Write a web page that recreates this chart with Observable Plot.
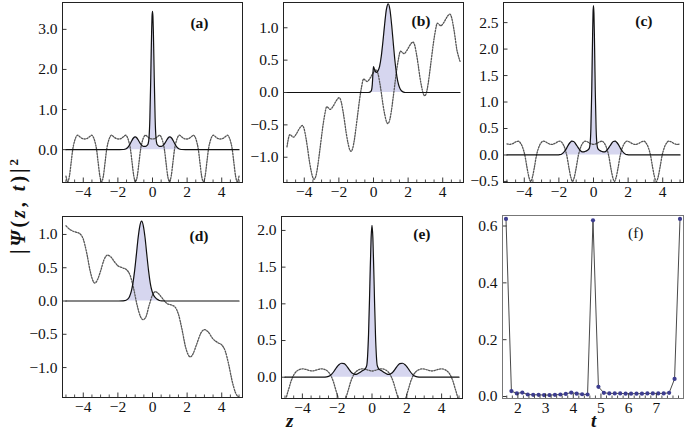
<!DOCTYPE html>
<html><head><meta charset="utf-8">
<script src="https://cdn.jsdelivr.net/npm/d3@7"></script>
<script src="https://cdn.jsdelivr.net/npm/@observablehq/plot@0.6"></script>
<style>
body{margin:0;background:#fff;}
#fig{position:relative;width:685px;height:434px;background:#fff;overflow:hidden;}
#fig svg{position:absolute;overflow:visible;background:transparent;font-family:"Liberation Serif",serif;}
#fig svg text{font-family:"Liberation Serif",serif;}
.ttl{position:absolute;font-family:"Liberation Serif",serif;font-weight:bold;color:#111;white-space:nowrap;}
</style></head><body><div id="fig"></div>
<script>
// ---------- tick labels ----------
const zTicks = [-4, -2, 0, 2, 4];
const zMinor = [-5, -4.5, -3.5, -3, -2.5, -1.5, -1, -0.5, 0.5, 1, 1.5, 2.5, 3, 3.5, 4.5, 5];
const tTicks = [2, 3, 4, 5, 6, 7];
const tMinor = [1.6, 1.8, 2.2, 2.4, 2.6, 2.8, 3.2, 3.4, 3.6, 3.8, 4.2, 4.4, 4.6, 4.8, 5.2, 5.4, 5.6, 5.8, 6.2, 6.4, 6.6, 6.8, 7.2, 7.4, 7.6, 7.8];
const aYTicks = [0, 1, 2, 3];
const bYTicks = [-1, -0.5, 0, 0.5, 1];
const cYTicks = [-0.5, 0, 0.5, 1, 1.5, 2, 2.5];
const dYTicks = [-1, -0.5, 0, 0.5, 1];
const eYTicks = [0, 0.5, 1, 1.5, 2];
const fYTicks = [0, 0.2, 0.4, 0.6];

// ---------- panel (a) ----------
const aDotZ = [-5.0,-4.9,-4.8,-4.7,-4.61,-4.5,-4.4,-4.33,-4.2,-4.05,-3.92,-3.79,-3.64,-3.51,-3.44,-3.34,-3.23,-3.14,-3.04,-2.94,-2.84,-2.74,-2.65,-2.54,-2.44,-2.37,-2.24,-2.09,-1.96,-1.83,-1.68,-1.55,-1.48,-1.38,-1.27,-1.18,-1.08,-0.98,-0.88,-0.78,-0.69,-0.58,-0.48,-0.41,-0.28,-0.13,0,
  0.13,0.28,0.41,0.48,0.58,0.69,0.78,0.88,0.98,1.08,1.18,1.27,1.38,1.48,1.55,1.68,1.83,1.96,2.09,2.24,2.37,2.44,2.54,2.65,2.74,2.84,2.94,3.04,3.14,3.23,3.34,3.44,3.51,3.64,3.79,3.92,4.05,4.2,4.33,4.4,4.5,4.61,4.7,4.8,4.9,5.0];
const aDotV = [-0.66,-0.80,-0.66,-0.32,0.0,0.22,0.33,0.36,0.32,0.275,0.265,0.275,0.32,0.36,0.33,0.22,0.0,-0.32,-0.66,-0.80,-0.66,-0.32,0.0,0.22,0.33,0.36,0.32,0.275,0.265,0.275,0.32,0.36,0.33,0.22,0.0,-0.32,-0.66,-0.80,-0.66,-0.32,0.0,0.22,0.33,0.36,0.32,0.275,0.265,
  0.275,0.32,0.36,0.33,0.22,0.0,-0.32,-0.66,-0.80,-0.66,-0.32,0.0,0.22,0.33,0.36,0.32,0.275,0.265,0.275,0.32,0.36,0.33,0.22,0.0,-0.32,-0.66,-0.80,-0.66,-0.32,0.0,0.22,0.33,0.36,0.32,0.275,0.265,0.275,0.32,0.36,0.33,0.22,0.0,-0.32,-0.66,-0.80,-0.66];
const aSolZ = [-5,-1.9,-1.7,-1.6,-1.5,-1.4,-1.3,-1.2,-1.1,-1.0,-0.9,-0.8,-0.7,-0.6,-0.5,-0.4,-0.3,-0.25,-0.2,-0.15,-0.1,-0.075,-0.05,-0.025,0,0.025,0.05,0.075,0.1,0.15,0.2,0.25,0.3,0.4,0.5,0.6,0.7,0.8,0.9,1.0,1.1,1.2,1.3,1.4,1.5,1.6,1.7,1.9,5];
const aSolV = [0,0,0.003,0.01,0.03,0.07,0.14,0.22,0.29,0.32,0.29,0.22,0.15,0.1,0.08,0.08,0.11,0.15,0.3,0.8,1.8,2.4,2.95,3.32,3.45,3.32,2.95,2.4,1.8,0.8,0.3,0.15,0.11,0.08,0.08,0.1,0.15,0.22,0.29,0.32,0.29,0.22,0.14,0.07,0.03,0.01,0.003,0,0];

// ---------- panel (b) ----------
const bDotZ = [-5.0,-4.83,-4.73,-4.63,-4.46,-4.31,-4.21,-4.11,-4.01,-3.91,-3.81,-3.71,-3.61,-3.51,-3.43,-3.33,-3.23,-3.13,-3.03,-2.93,-2.83,-2.70,-2.60,-2.50,-2.33,-2.18,-2.08,-1.98,-1.88,-1.78,-1.68,-1.58,-1.48,-1.38,-1.30,-1.20,-1.10,-1.00,-0.90,-0.80,-0.70,-0.57,-0.47,-0.37,-0.20,-0.05,0.05,0.15,0.25,0.35,0.45,0.55,0.65,0.75,0.83,0.93,1.03,1.13,1.23,1.33,1.43,1.56,1.66,1.76,1.93,2.08,2.18,2.28,2.38,2.48,2.58,2.68,2.78,2.88,2.96,3.06,3.16,3.26,3.36,3.46,3.56,3.69,3.79,3.89,4.06,4.21,4.31,4.41,4.51,4.61,4.71,4.81,4.91,5.0];
const bDotV = [-0.84,-0.65,-0.67,-0.69,-0.64,-0.57,-0.53,-0.51,-0.56,-0.69,-0.86,-1.05,-1.20,-1.31,-1.34,-1.29,-1.15,-0.95,-0.74,-0.53,-0.36,-0.22,-0.24,-0.26,-0.21,-0.14,-0.10,-0.08,-0.13,-0.26,-0.43,-0.62,-0.77,-0.88,-0.91,-0.86,-0.72,-0.52,-0.31,-0.10,0.07,0.21,0.19,0.17,0.22,0.29,0.33,0.35,0.30,0.17,0.00,-0.19,-0.34,-0.45,-0.48,-0.43,-0.29,-0.09,0.12,0.33,0.50,0.64,0.62,0.60,0.65,0.72,0.76,0.78,0.73,0.60,0.43,0.24,0.09,-0.02,-0.05,0.00,0.14,0.34,0.55,0.76,0.93,1.07,1.05,1.03,1.08,1.15,1.19,1.21,1.16,1.03,0.86,0.67,0.56,0.48];
const bSolZ = [-5,-0.3,-0.2,-0.12,-0.07,-0.03,0.0,0.04,0.1,0.17,0.25,0.35,0.45,0.55,0.65,0.75,0.85,0.95,1.05,1.15,1.25,1.35,1.45,1.55,1.7,1.85,5];
const bSolV = [0,0,0.005,0.03,0.12,0.30,0.40,0.37,0.33,0.31,0.33,0.40,0.56,0.80,1.07,1.29,1.37,1.28,1.04,0.74,0.46,0.25,0.12,0.05,0.01,0,0];

// ---------- panel (c) ----------
const cDotZ = [-5.0,-4.84,-4.63,-4.48,-4.35,-4.21,-4.08,-3.97,-3.83,-3.73,-3.63,-3.53,-3.43,-3.29,-3.18,-3.05,-2.91,-2.78,-2.63,-2.42,-2.21,-2.06,-1.93,-1.79,-1.66,-1.55,-1.41,-1.31,-1.21,-1.11,-1.01,-0.87,-0.76,-0.63,-0.49,-0.36,-0.21,0,0.21,0.36,0.49,0.63,0.76,0.87,1.01,1.11,1.21,1.31,1.41,1.55,1.66,1.79,1.93,2.06,2.21,2.42,2.63,2.78,2.91,3.05,3.18,3.29,3.43,3.53,3.63,3.73,3.83,3.97,4.08,4.21,4.35,4.48,4.63,4.84,5.0];
const cDotV = [0.21,0.20,0.22,0.25,0.26,0.22,0.13,0.0,-0.26,-0.42,-0.50,-0.42,-0.26,0.0,0.13,0.22,0.26,0.25,0.22,0.20,0.22,0.25,0.26,0.22,0.13,0.0,-0.26,-0.42,-0.50,-0.42,-0.26,0.0,0.13,0.22,0.26,0.25,0.22,0.20,0.22,0.25,0.26,0.22,0.13,0.0,-0.26,-0.42,-0.50,-0.42,-0.26,0.0,0.13,0.22,0.26,0.25,0.22,0.20,0.22,0.25,0.26,0.22,0.13,0.0,-0.26,-0.42,-0.50,-0.42,-0.26,0.0,0.13,0.22,0.26,0.25,0.22,0.20,0.21];
const cSolZ = [-5,-2.1,-1.95,-1.85,-1.75,-1.65,-1.55,-1.45,-1.35,-1.25,-1.15,-1.05,-0.95,-0.85,-0.75,-0.65,-0.55,-0.45,-0.35,-0.25,-0.2,-0.15,-0.1,-0.075,-0.05,-0.025,0,0.025,0.05,0.075,0.1,0.15,0.2,0.25,0.35,0.45,0.55,0.65,0.75,0.85,0.95,1.05,1.15,1.25,1.35,1.45,1.55,1.65,1.75,1.85,1.95,2.1,5];
const cSolV = [0,0,0.005,0.015,0.04,0.08,0.13,0.19,0.235,0.26,0.255,0.22,0.17,0.12,0.08,0.06,0.06,0.07,0.09,0.12,0.2,0.5,1.24,1.78,2.3,2.68,2.82,2.68,2.3,1.78,1.24,0.5,0.2,0.12,0.09,0.07,0.06,0.06,0.08,0.12,0.17,0.22,0.255,0.26,0.235,0.19,0.13,0.08,0.04,0.015,0.005,0,0];

// ---------- panel (d) ----------
const dDotZ = [-5.0,-4.75,-4.5,-4.25,-4.0,-3.8,-3.6,-3.45,-3.33,-3.18,-3.0,-2.8,-2.6,-2.4,-2.2,-2.0,-1.75,-1.5,-1.3,-1.1,-0.9,-0.7,-0.55,-0.4,-0.2,0.0,0.17,0.35,0.6,0.85,1.1,1.3,1.5,1.7,1.9,2.05,2.18,2.33,2.55,2.8,3.0,3.2,3.5,3.8,4.0,4.2,4.4,4.6,4.8,5.0];
const dDotV = [1.13,1.07,1.04,1.02,0.93,0.72,0.45,0.31,0.27,0.32,0.45,0.62,0.69,0.66,0.59,0.53,0.50,0.47,0.39,0.20,-0.05,-0.23,-0.28,-0.25,-0.07,0.09,0.14,0.11,0.03,-0.04,-0.06,-0.09,-0.2,-0.42,-0.68,-0.80,-0.84,-0.80,-0.65,-0.48,-0.43,-0.46,-0.57,-0.63,-0.66,-0.75,-0.95,-1.2,-1.38,-1.45];
const dSolZ = [-5,-1.95,-1.75,-1.63,-1.53,-1.43,-1.33,-1.23,-1.13,-1.03,-0.93,-0.83,-0.73,-0.63,-0.53,-0.43,-0.33,-0.23,-0.13,-0.03,0.07,0.17,0.27,0.4,0.55,0.7,5];
const dSolV = [0,0,0.002,0.006,0.012,0.028,0.065,0.14,0.27,0.46,0.70,0.95,1.13,1.2,1.13,0.95,0.70,0.46,0.27,0.15,0.085,0.05,0.025,0.008,0.002,0,0];

// ---------- panel (e) ----------
const eDotZ = [-5.0,-4.86,-4.76,-4.66,-4.56,-4.46,-4.36,-4.21,-3.97,-3.71,-3.44,-3.17,-2.91,-2.67,-2.52,-2.42,-2.32,-2.22,-2.12,-2.02,-1.92,-1.82,-1.72,-1.62,-1.52,-1.42,-1.32,-1.22,-1.12,-1.02,-0.92,-0.77,-0.53,-0.27,0,0.27,0.53,0.77,0.92,1.02,1.12,1.22,1.32,1.42,1.52,1.62,1.72,1.82,1.92,2.02,2.12,2.22,2.32,2.42,2.52,2.67,2.91,3.17,3.44,3.71,3.97,4.21,4.36,4.46,4.56,4.66,4.76,4.86,5.0];
const eDotV = [-0.34,-0.22,-0.14,-0.06,0.0,0.045,0.075,0.1,0.115,0.1,0.085,0.1,0.115,0.1,0.075,0.045,0.0,-0.06,-0.14,-0.22,-0.30,-0.37,-0.40,-0.37,-0.30,-0.22,-0.14,-0.06,0.0,0.045,0.075,0.1,0.115,0.1,0.085,0.1,0.115,0.1,0.075,0.045,0.0,-0.06,-0.14,-0.22,-0.30,-0.37,-0.40,-0.37,-0.30,-0.22,-0.14,-0.06,0.0,0.045,0.075,0.1,0.115,0.1,0.085,0.1,0.115,0.1,0.075,0.045,0.0,-0.06,-0.14,-0.22,-0.34];
const eSolZ = [-5,-2.8,-2.6,-2.5,-2.4,-2.3,-2.2,-2.1,-2.0,-1.9,-1.75,-1.6,-1.5,-1.4,-1.3,-1.2,-1.1,-1.0,-0.9,-0.8,-0.7,-0.6,-0.5,-0.4,-0.3,-0.25,-0.2,-0.15,-0.1,-0.05,0,0.05,0.1,0.15,0.2,0.25,0.3,0.4,0.5,0.6,0.7,0.8,0.9,1.0,1.1,1.2,1.3,1.4,1.5,1.6,1.75,1.9,2.0,2.1,2.2,2.3,2.4,2.5,2.6,2.8,5];
const eSolV = [0,0,0.005,0.012,0.025,0.045,0.075,0.11,0.145,0.17,0.19,0.185,0.165,0.135,0.1,0.07,0.05,0.04,0.04,0.05,0.065,0.08,0.095,0.11,0.16,0.3,0.58,1.0,1.48,1.9,2.07,1.9,1.48,1.0,0.58,0.3,0.16,0.11,0.095,0.08,0.065,0.05,0.04,0.04,0.05,0.07,0.1,0.135,0.165,0.185,0.19,0.17,0.145,0.11,0.075,0.045,0.025,0.012,0.005,0,0];

// ---------- panel (f) ----------
const fT = [1.5708,1.7671,1.9635,2.1598,2.3562,2.5525,2.7489,2.9452,3.1416,3.3379,3.5343,3.7306,3.9270,4.1233,4.3197,4.5160,4.7124,4.9087,5.1051,5.3014,5.4978,5.6941,5.8905,6.0868,6.2832,6.4795,6.6759,6.8722,7.0686,7.2649,7.4613,7.6576,7.8540];
const fV = [0.625,0.019,0.011,0.014,0.007,0.006,0.006,0.005,0.005,0.006,0.007,0.009,0.014,0.010,0.008,0.007,0.620,0.034,0.013,0.011,0.011,0.011,0.010,0.010,0.010,0.010,0.011,0.011,0.011,0.011,0.013,0.062,0.625];

// ---------- drawing ----------
const SERIF = "Liberation Serif";
const FILL = "#d6d6ef";
const fig = document.getElementById("fig");
const zip = (xs, ys) => xs.map((x, i) => ({x, y: ys[i]}));
const fmt1 = d3.format(".1f");
const fmtZ = d3.format("d");

function place(svg, left, top) {
  svg.style.left = left + "px";
  svg.style.top = top + "px";
  fig.appendChild(svg);
}

function commonAxes(opt) {
  const innerH = opt.fh, innerW = opt.fw;
  return [
    Plot.tickX(opt.xMajor, {x: d => d, insetTop: innerH - 4.5, stroke: "#222", strokeWidth: 0.9}),
    Plot.tickX(opt.xMinor, {x: d => d, insetTop: innerH - 2.5, stroke: "#222", strokeWidth: 0.8}),
    Plot.tickY(opt.yMajor, {y: d => d, insetRight: innerW - 4.5, stroke: "#222", strokeWidth: 0.9}),
    Plot.axisX({ticks: opt.xMajor, tickSize: 0, tickPadding: 3, tickFormat: opt.xFmt, fontSize: 15.5, fontFamily: SERIF, label: null, fill: "#111"}),
    Plot.axisY({ticks: opt.yMajor, tickSize: 0, tickPadding: 5, tickFormat: opt.yFmt, fontSize: 15.5, fontFamily: SERIF, label: null, fill: "#111"}),
    Plot.frame({stroke: opt.frameColor || "#222", strokeWidth: 1}),
    Plot.text([opt.label], {frameAnchor: "top-right", dx: opt.ldx, dy: opt.ldy, text: d => d, fontSize: 15.5, fontWeight: opt.lw || "bold", fontFamily: SERIF, fill: "#111"})
  ];
}

const mL = 50, mR = 2, mT = 2, mB = 22;
const plotStyle = {background: "transparent", overflow: "visible", fontFamily: SERIF, fontSize: "15.5px"};

function wavePanel(p) {
  const dot = zip(p.dz, p.dv);
  const sol = zip(p.sz, p.sv);
  const svg = Plot.plot({
    width: p.fw + mL + mR, height: p.fh + mT + mB,
    marginLeft: mL, marginRight: mR, marginTop: mT, marginBottom: mB,
    x: {domain: [-5.2, 5.2]}, y: {domain: p.yDom},
    style: plotStyle,
    marks: [
      Plot.areaY(sol, {x: "x", y: "y", fill: FILL, curve: "monotone-x", clip: true}),
      Plot.lineY(dot, {x: "x", y: "y", stroke: "#555", strokeWidth: 1.3, strokeDasharray: "1.4,1.4", curve: "monotone-x", clip: true}),
      Plot.lineY(sol, {x: "x", y: "y", stroke: "#111", strokeWidth: 1.2, curve: "monotone-x", clip: true}),
      ...commonAxes({fh: p.fh, fw: p.fw, xMajor: zTicks, xMinor: zMinor, yMajor: p.yTicks, xFmt: fmtZ, yFmt: fmt1, label: p.label, ldx: p.ldx, ldy: p.ldy})
    ]
  });
  place(svg, p.fl - mL, p.ft - mT);
}

wavePanel({fl: 62, ft: 2, fw: 180, fh: 180, yDom: [-0.82, 3.67], yTicks: aYTicks, dz: aDotZ, dv: aDotV, sz: aSolZ, sv: aSolV, label: "(a)", ldx: -34, ldy: 14});
wavePanel({fl: 283, ft: 2, fw: 180, fh: 180, yDom: [-1.39, 1.39], yTicks: bYTicks, dz: bDotZ, dv: bDotV, sz: bSolZ, sv: bSolV, label: "(b)", ldx: -33, ldy: 12});
wavePanel({fl: 503, ft: 2, fw: 180, fh: 180, yDom: [-0.52, 2.88], yTicks: cYTicks, dz: cDotZ, dv: cDotV, sz: cSolZ, sv: cSolV, label: "(c)", ldx: -31, ldy: 12});
wavePanel({fl: 62, ft: 216, fw: 180, fh: 181, yDom: [-1.45, 1.27], yTicks: dYTicks, dz: dDotZ, dv: dDotV, sz: dSolZ, sv: dSolV, label: "(d)", ldx: -34, ldy: 13});
wavePanel({fl: 281, ft: 216, fw: 181, fh: 182, yDom: [-0.29, 2.19], yTicks: eYTicks, dz: eDotZ, dv: eDotV, sz: eSolZ, sv: eSolV, label: "(e)", ldx: -32, ldy: 11});

// panel (f)
(function () {
  const pts = zip(fT, fV);
  const fw = 181, fh = 183, fl = 502, ft = 215;
  const svg = Plot.plot({
    width: fw + mL + mR, height: fh + mT + mB,
    marginLeft: mL, marginRight: mR, marginTop: mT, marginBottom: mB,
    x: {domain: [1.445, 7.98]}, y: {domain: [-0.007, 0.637]},
    style: plotStyle,
    marks: [
      Plot.line(pts, {x: "x", y: "y", stroke: "#333", strokeWidth: 0.9}),
      Plot.dot(pts, {x: "x", y: "y", r: 2.1, fill: "#3d3d8f", stroke: "none"}),
      ...commonAxes({fh, fw, xMajor: tTicks, xMinor: tMinor, yMajor: fYTicks, xFmt: fmtZ, yFmt: fmt1, label: "(f)", ldx: -40, ldy: 11, lw: "normal", frameColor: "#777"})
    ]
  });
  place(svg, fl - mL, ft - mT);
})();

// axis titles
const yt = document.createElement("div");
yt.className = "ttl";
yt.style.cssText += "left:18px;top:205px;font-size:20px;letter-spacing:3px;transform:translate(-50%,-50%) rotate(-90deg);";
yt.innerHTML = "|<i>Ψ</i>(<i>z</i>, <i>t</i>)|<sup style='font-size:13px'>2</sup>";
fig.appendChild(yt);

const zt = document.createElement("div");
zt.className = "ttl";
zt.style.cssText += "left:286px;top:410px;font-size:19px;font-style:italic;";
zt.textContent = "z";
fig.appendChild(zt);

const tt = document.createElement("div");
tt.className = "ttl";
tt.style.cssText += "left:591px;top:410px;font-size:19px;font-style:italic;";
tt.textContent = "t";
fig.appendChild(tt);
</script></body></html>
